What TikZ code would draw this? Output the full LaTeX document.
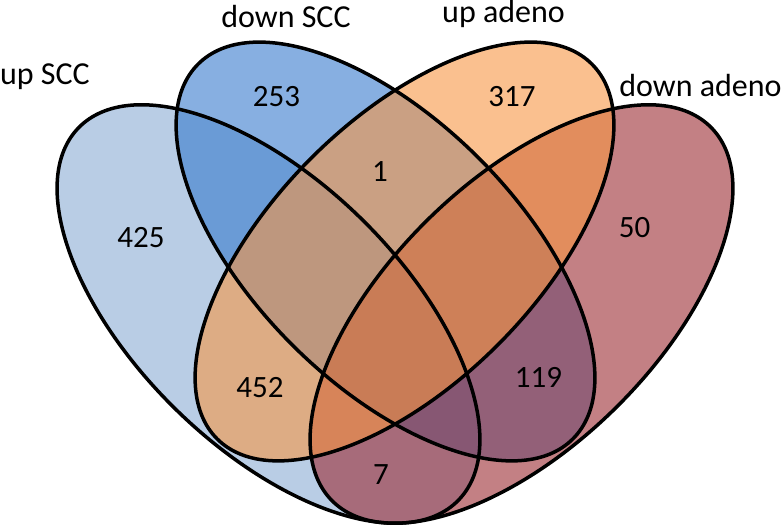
\documentclass[tikz,border=0pt]{standalone}
\usepackage{fontspec}
\setmainfont{Carlito}
\usetikzlibrary{positioning}
\definecolor{upsccblue}{RGB}{138,172,212}
\definecolor{downsccblue}{RGB}{55,122,205}
\definecolor{upadenoorange}{RGB}{247,150,68}
\definecolor{downadenored}{RGB}{155,43,50}

\begin{document}
\begin{tikzpicture}[
    x=1pt, y=1pt,
    setfill/.style={fill opacity=0.6},
    setline/.style={draw=black, line width=3.5pt},
    setlabel/.style={font=\fontsize{32}{38}\selectfont, anchor=base, inner sep=0pt},
    count/.style={font=\fontsize{31}{37}\selectfont, anchor=base, inner sep=0pt}
]
\useasboundingbox (0,0) rectangle (784,526);
% centres of the four sets
\coordinate (upscc) at (268.5,212);
\coordinate (downscc) at (385.5,274.5);
\coordinate (upadeno) at (404.5,274.5);
\coordinate (downadeno) at (521.5,212);
% fills
\fill[upsccblue, setfill, rotate around={-44.5:(upscc)}] (upscc) ellipse [x radius=266pt, y radius=133pt];
\fill[downsccblue, setfill, rotate around={-45:(downscc)}] (downscc) ellipse [x radius=265pt, y radius=132pt];
\fill[downadenored, setfill, rotate around={44.5:(downadeno)}] (downadeno) ellipse [x radius=266pt, y radius=133pt];
\fill[upadenoorange, setfill, rotate around={45:(upadeno)}] (upadeno) ellipse [x radius=265pt, y radius=132pt];
% outlines
\draw[setline, rotate around={-44.5:(upscc)}] (upscc) ellipse [x radius=266pt, y radius=133pt];
\draw[setline, rotate around={-45:(downscc)}] (downscc) ellipse [x radius=265pt, y radius=132pt];
\draw[setline, rotate around={44.5:(downadeno)}] (downadeno) ellipse [x radius=266pt, y radius=133pt];
\draw[setline, rotate around={45:(upadeno)}] (upadeno) ellipse [x radius=265pt, y radius=132pt];
% set names
\node[setlabel] (lupscc) at (45,441) {up SCC};
\node[setlabel] (ldownscc) at (286,498) {down SCC};
\node[setlabel] (lupadeno) at (503.5,503) {up adeno};
\node[setlabel] (ldownadeno) at (700.5,429) {down adeno};
% counts
\node[count] (n425) at (141,278) {425};
\node[count] (n253) at (276.5,419) {253};
\node[count] (n1) at (380,344) {1};
\node[count] (n317) at (512,419) {317};
\node[count] (n50) at (634.5,288) {50};
\node[count] (n452) at (260,128) {452};
\node[count] (n7) at (381,41) {7};
\node[count] (n119) at (538.5,138) {119};
\end{tikzpicture}
\end{document}
